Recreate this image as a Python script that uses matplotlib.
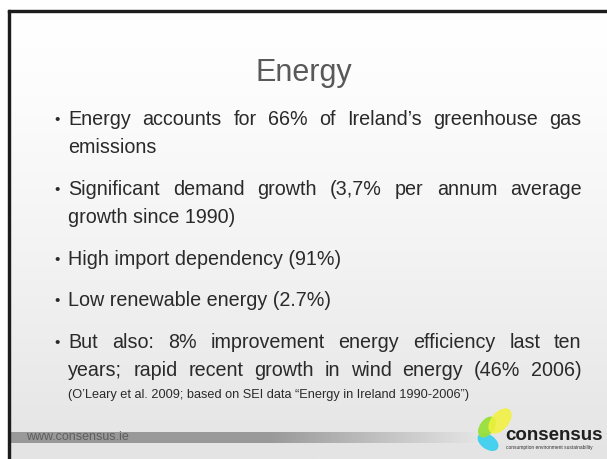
import numpy as np
import matplotlib
matplotlib.use('Agg')
import matplotlib.pyplot as plt
from matplotlib.patches import Rectangle, Ellipse
from matplotlib.colors import LinearSegmentedColormap

# slide text
title = 'Energy'
# each bullet: list of (line text, justified?)
bullets = [
    [('Energy accounts for 66% of Ireland’s greenhouse gas', True),
     ('emissions', False)],
    [('Significant demand growth (3,7% per annum average', True),
     ('growth since 1990)', False)],
    [('High import dependency (91%)', False)],
    [('Low renewable energy (2.7%)', False)],
    [('But also: 8% improvement energy efficiency last ten', True),
     ('years; rapid recent growth in wind energy (46% 2006)', True)],
]
citation = '(O’Leary et al. 2009; based on SEI data “Energy in Ireland 1990-2006”)'
footer = 'www.consensus.ie'
logo_name = 'consensus'
logo_tag = 'consumption environment sustainability'

W, H = 607, 459
fig = plt.figure(figsize=(W / 100, H / 100), dpi=100)
ax = fig.add_axes([0, 0, 1, 1])
ax.set_xlim(0, W)
ax.set_ylim(H, 0)
ax.axis('off')

# background gradient inside the frame
grad = np.linspace(0, 1, 200).reshape(-1, 1) ** 1.3
bg = LinearSegmentedColormap.from_list('bg', ['#ffffff', '#e4e4e4'])
ax.imshow(grad, cmap=bg, extent=[9, W, H, 11], aspect='auto', zorder=0)

# frame
ax.add_patch(Rectangle((8, 10), W - 8, 2.2, color='#1c1c1c', zorder=5))
ax.add_patch(Rectangle((8, 10), 2.2, H - 10, color='#1c1c1c', zorder=5))

# footer bar, solid then fading out
xs = np.linspace(10, 480, 400)
alpha = np.clip((480 - xs) / 210, 0, 1)
bar = np.zeros((1, 400, 4))
bar[..., :3] = 0.60
bar[..., 3] = alpha
ax.imshow(bar, extent=[10, 480, 442.7, 431.7], aspect='auto', zorder=1)
ax.text(26, 437.5, footer, fontsize=9, color='#5e5e5e', va='center',
        family='Liberation Sans', zorder=2)

# title
ax.text(W / 2, 81.5, title, fontsize=22, color='#595959', ha='center',
        va='baseline', family='Liberation Sans')

renderer = fig.canvas.get_renderer()
left, right = 68.3, 581.7
body_size = 14.2
txt_col = '#2a2a2a'


def put_line(s, y, justify, size=body_size):
    if not justify:
        ax.text(left, y, s, fontsize=size, color=txt_col, va='baseline',
                family='Liberation Sans')
        return
    words = s.split(' ')
    objs = [ax.text(0, y, w, fontsize=size, color=txt_col, va='baseline',
                    family='Liberation Sans') for w in words]
    widths = [o.get_window_extent(renderer).width for o in objs]
    gap = (right - left - sum(widths)) / (len(words) - 1)
    x = left
    for o, w in zip(objs, widths):
        o.set_x(x)
        x += w + gap


y = 125
line_step = 28.3
para_step = 41.5
for b in bullets:
    ax.text(54, y - 1, '•', fontsize=11, color=txt_col, va='baseline',
            family='Liberation Sans')
    for s, j in b:
        put_line(s, y, j)
        y += line_step
    y += para_step - line_step

ax.text(left, 397.7, citation, fontsize=9.2, color=txt_col, va='baseline',
        family='Liberation Sans')

# logo blobs
ax.add_patch(Ellipse((488, 442), 22, 13, angle=35, color='#3fd0f0', alpha=0.95, zorder=3))
ax.add_patch(Ellipse((487, 427), 22, 13, angle=-55, color='#99e03a', alpha=0.95, zorder=3))
ax.add_patch(Ellipse((500, 421), 28, 16, angle=-50, color='#f2f23a', alpha=0.85, zorder=4))
ax.text(505, 440.5, logo_name, fontsize=13.5, fontweight='bold', color='#1f1f1f',
        va='baseline', family='Liberation Sans', zorder=4)
ax.text(505.5, 449, logo_tag, fontsize=3.5, color='#333333', va='baseline',
        family='Liberation Sans', zorder=4)

fig.savefig('out.png', dpi=100)
